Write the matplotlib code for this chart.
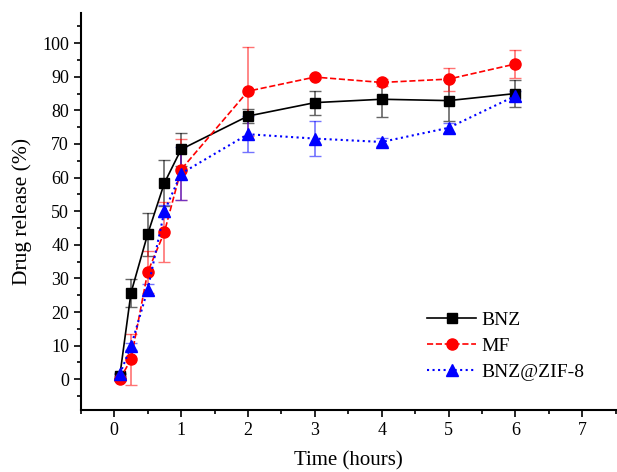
import numpy as np
import matplotlib.pyplot as plt
from matplotlib.ticker import MultipleLocator

plt.rcParams['font.family'] = ['Liberation Serif', 'DejaVu Serif']

t = [0.083, 0.25, 0.5, 0.75, 1, 2, 3, 4, 5, 6]
bnz = [1.0, 25.7, 43.2, 58.4, 68.4, 78.3, 82.3, 83.3, 82.9, 85.0]
bnz_err = [0.5, 4.2, 6.4, 6.8, 5.0, 2.0, 3.6, 5.2, 6.0, 4.1]
mf = [0.0, 5.9, 31.9, 43.8, 62.4, 85.7, 89.9, 88.3, 89.3, 93.8]
mf_err = [0.5, 7.6, 6.3, 9.0, 9.0, 13.2, 0.5, 1.0, 3.4, 4.1]
zif = [1.5, 9.8, 26.7, 50.0, 61.2, 72.9, 71.6, 70.6, 74.8, 84.3]
zif_err = [0.5, 1.0, 1.5, 1.8, 7.8, 5.4, 5.1, 1.2, 1.5, 1.5]

fig = plt.figure(figsize=(6.17, 4.72), dpi=100)
ax = fig.add_axes([0.131, 0.131, 0.867, 0.841])

ax.errorbar(t, bnz, yerr=bnz_err, color='black', ls='-', lw=1.2, marker='s', ms=7,
            ecolor=(0, 0, 0, 0.6), elinewidth=1.2, capsize=4, label='BNZ')
ax.errorbar(t, mf, yerr=mf_err, color='red', ls='--', lw=1.2, marker='o', ms=8,
            ecolor=(1, 0, 0, 0.55), elinewidth=1.2, capsize=4, label='MF')
ax.errorbar(t, zif, yerr=zif_err, color='blue', ls=':', lw=1.5, marker='^', ms=8,
            ecolor=(0, 0, 1, 0.55), elinewidth=1.2, capsize=4, label='BNZ@ZIF-8')

ax.set_xlim(-0.5, 7.5)
ax.set_ylim(-9.2, 108.9)
ax.xaxis.set_major_locator(MultipleLocator(1))
ax.xaxis.set_minor_locator(MultipleLocator(0.5))
ax.yaxis.set_major_locator(MultipleLocator(10))
ax.yaxis.set_minor_locator(MultipleLocator(5))
ax.set_yticks(range(0, 101, 10))
ax.tick_params(which='major', direction='out', length=5, width=1.2, labelsize=13)
ax.tick_params(which='minor', direction='out', length=3, width=1.2)
for s in ['top', 'right']:
    ax.spines[s].set_visible(False)
for s in ['left', 'bottom']:
    ax.spines[s].set_linewidth(1.5)

ax.set_xlabel('Time (hours)', fontsize=15, labelpad=9)
ax.set_ylabel('Drug release (%)', fontsize=15.5, labelpad=7)

h, l = ax.get_legend_handles_labels()
h = [x[0] for x in h]
ax.legend(h, l, loc='upper left', bbox_to_anchor=(0.615, 0.294), frameon=False,
          fontsize=14, handlelength=2.5, handletextpad=0.3, labelspacing=0.45)

fig.savefig('out.png', dpi=100)
